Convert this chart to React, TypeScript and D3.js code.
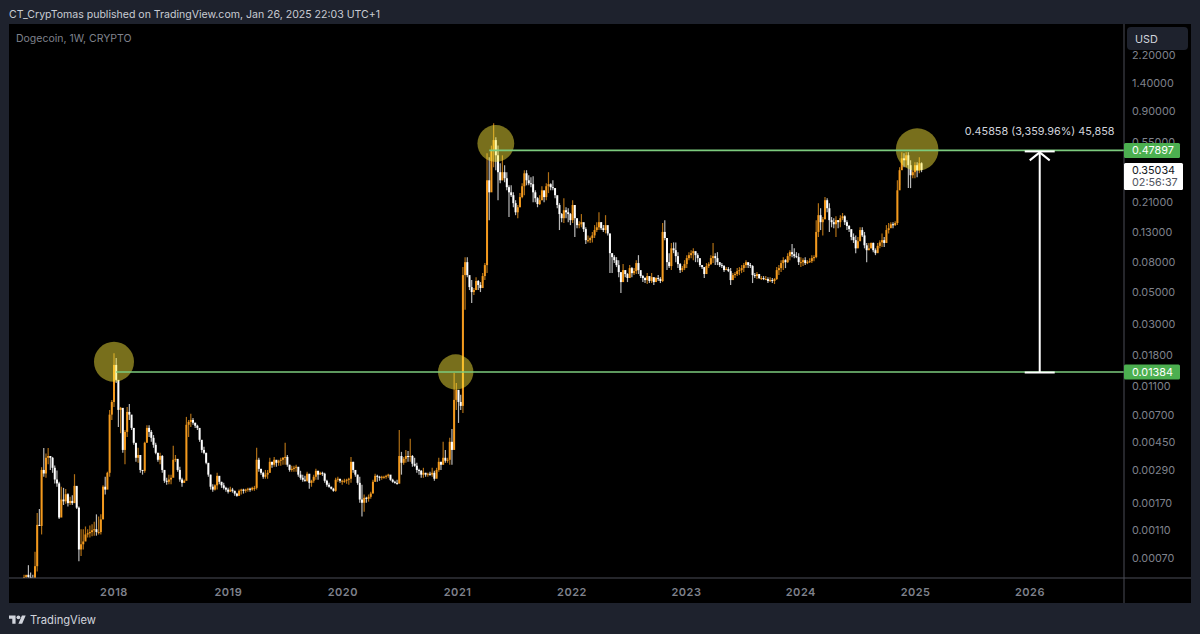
import React from "react";
import * as d3 from "d3";

type Week = [number, number, number]; // high, low, close

const weeks2017: Week[] = [
  [.00054,.00050,.00052],[.00053,.00050,.00054],[.00063,.00051,.00052],[.00056,.00048,.00051],[.00054,.00046,.00050],
  [.00078,.00050,.00062],[.00145,.00057,.00120],[.00155,.00119,.00118],[.00302,.00103,.00289],[.00410,.00259,.00273],
  [.00376,.00255,.00351],[.00410,.00317,.00361],[.00361,.00289,.00351],[.00356,.00276,.00299],[.00310,.00233,.00248],
  [.00286,.00221,.00233],[.00239,.00132,.00135],[.00221,.00146,.00180],[.00217,.00165,.00175],[.00213,.00168,.00196],
  [.00199,.00161,.00170],[.00188,.00165,.00176],[.00193,.00165,.00170],[.00270,.00180,.00224],[.00221,.00155,.00158],
  [.00161,.00067,.00081],[.00112,.00073,.00088],[.00112,.00081,.00092],[.00117,.00095,.00103],[.00112,.00098,.00105],
  [.00119,.00098,.00107],[.00121,.00100,.00110],[.00126,.00101,.00112],[.00142,.00101,.00107],[.00137,.00103,.00107],
  [.00142,.00103,.00131],[.00226,.00135,.00221],[.00259,.00195,.00211],[.00281,.00221,.00276],[.00755,.00259,.00700],
  [.00886,.00643,.00857],[.01050,.00792,.01006],
];

const weeks2018: Week[] = [
  [.0187,.00918,.0155],[.0173,.0116,.0122],[.0116,.00575,.00755],[.00792,.00520,.00780],[.00755,.00380,.00398],
  [.00548,.00317,.00531],[.00792,.00490,.00731],[.00830,.00643,.00700],[.00664,.00548,.00566],[.00566,.00432,.00446],
  [.00418,.00329,.00351],[.00412,.00324,.00367],[.00356,.00276,.00289],[.00289,.00268,.00285],[.00453,.00276,.00446],
  [.00590,.00453,.00566],[.00590,.00490,.00531],[.00548,.00453,.00483],[.00505,.00412,.00432],[.00446,.00372,.00380],
  [.00380,.00329,.00340],[.00380,.00317,.00361],[.00367,.00276,.00289],[.00289,.00235,.00243],[.00255,.00228,.00239],
  [.00268,.00230,.00248],[.00268,.00230,.00255],[.00425,.00259,.00340],[.00367,.00329,.00345],[.00340,.00281,.00289],
  [.00304,.00239,.00248],[.00255,.00221,.00235],[.00248,.00235,.00243],[.00675,.00248,.00595],[.00643,.00490,.00623],
  [.00709,.00575,.00643],[.00664,.00595,.00615],[.00615,.00566,.00586],[.00595,.00548,.00566],[.00548,.00453,.00468],
  [.00453,.00380,.00398],[.00418,.00372,.00380],[.00380,.00317,.00324],[.00317,.00259,.00268],[.00268,.00211,.00221],
  [.00230,.00204,.00211],[.00230,.00208,.00226],[.00276,.00211,.00263],[.00259,.00230,.00239],[.00239,.00217,.00226],
  [.00235,.00211,.00217],[.00221,.00204,.00211],[.00217,.00198,.00204],
];

const weeks2019: Week[] = [
  [.00221,.00204,.00211],[.00217,.00201,.00207],[.00207,.00191,.00198],[.00201,.00188,.00191],[.00211,.00191,.00207],
  [.00214,.00195,.00211],[.00214,.00198,.00207],[.00214,.00201,.00211],[.00217,.00204,.00214],[.00217,.00204,.00211],
  [.00221,.00207,.00217],[.00224,.00207,.00217],[.00412,.00211,.00340],[.00351,.00281,.00294],[.00294,.00268,.00276],
  [.00281,.00251,.00259],[.00289,.00251,.00268],[.00289,.00251,.00276],[.00351,.00276,.00329],[.00329,.00299,.00314],
  [.00356,.00304,.00340],[.00335,.00304,.00324],[.00340,.00309,.00335],[.00351,.00309,.00340],[.00356,.00314,.00351],
  [.00446,.00314,.00356],[.00367,.00304,.00314],[.00314,.00281,.00289],[.00309,.00281,.00294],[.00309,.00281,.00299],
  [.00314,.00281,.00304],[.00289,.00259,.00268],[.00285,.00247,.00255],[.00268,.00239,.00247],[.00263,.00239,.00243],
  [.00281,.00239,.00272],[.00268,.00214,.00235],[.00247,.00221,.00243],[.00268,.00235,.00259],[.00294,.00247,.00285],
  [.00285,.00247,.00268],[.00281,.00268,.00276],[.00281,.00263,.00272],[.00276,.00235,.00243],[.00247,.00221,.00228],
  [.00235,.00217,.00221],[.00221,.00211,.00214],[.00217,.00204,.00207],[.00255,.00204,.00247],[.00259,.00239,.00251],
  [.00247,.00235,.00243],[.00247,.00228,.00243],
];

const weeks2020: Week[] = [
  [.00251,.00235,.00243],[.00251,.00232,.00247],[.00255,.00228,.00251],[.00356,.00235,.00329],[.00329,.00276,.00289],
  [.00289,.00259,.00268],[.00268,.00228,.00235],[.00259,.00171,.00180],[.00228,.00137,.00171],[.00195,.00148,.00185],
  [.00188,.00171,.00182],[.00195,.00174,.00188],[.00204,.00182,.00198],[.00247,.00201,.00239],[.00272,.00239,.00263],
  [.00268,.00239,.00259],[.00263,.00243,.00255],[.00263,.00247,.00259],[.00263,.00251,.00259],[.00268,.00251,.00263],
  [.00272,.00255,.00268],[.00259,.00243,.00247],[.00251,.00235,.00239],[.00243,.00232,.00235],[.00247,.00228,.00232],
  [.00548,.00235,.00361],[.00386,.00268,.00324],[.00356,.00314,.00345],[.00398,.00324,.00361],[.00392,.00329,.00356],
  [.00475,.00329,.00361],[.00367,.00304,.00319],[.00351,.00304,.00309],[.00324,.00276,.00289],[.00294,.00268,.00285],
  [.00289,.00255,.00268],[.00299,.00255,.00276],[.00276,.00259,.00268],[.00276,.00259,.00272],[.00281,.00263,.00268],
  [.00299,.00259,.00276],[.00285,.00243,.00251],[.00299,.00259,.00289],[.00351,.00281,.00329],[.00329,.00289,.00314],
  [.00453,.00314,.00351],[.00398,.00324,.00335],[.00351,.00324,.00340],[.00483,.00314,.00453],[.00557,.00314,.00398],
  [.01362,.00412,.00886],[.0116,.00755,.0104],
];

const weeks2021: Week[] = [
  [.01006,.00613,.00857],[.0096,.00755,.00805],[.0741,.00719,.0652],[.0869,.0375,.0802],[.0869,.0631,.0652],
  [.0631,.0513,.0538],[.0602,.0417,.0497],[.053,.0474,.0513],[.0631,.0513,.0593],[.0602,.0513,.0556],
  [.0583,.0497,.053],[.0673,.0574,.0642],[.079,.0602,.0765],[.457,.0673,.297],[.429,.157,.245],
  [.517,.349,.479],[.738,.366,.565],[.59,.349,.443],[.517,.216,.338],[.39,.283,.297],
  [.443,.297,.338],[.378,.288,.307],[.338,.253,.266],[.274,.165,.245],[.274,.227,.234],
  [.245,.193,.206],[.216,.17,.178],[.2,.162,.193],[.242,.193,.227],[.283,.223,.27],
  [.349,.234,.332],[.349,.274,.297],[.322,.274,.283],[.312,.266,.279],[.317,.209,.245],
  [.253,.209,.223],[.227,.193,.203],[.234,.2,.216],[.27,.216,.253],[.242,.209,.227],
  [.283,.216,.27],[.338,.242,.279],[.283,.253,.266],[.297,.253,.262],[.262,.223,.234],
  [.227,.19,.2],[.206,.134,.173],[.176,.152,.162],[.223,.15,.184],[.193,.162,.178],
  [.19,.152,.173],[.176,.145,.157],
];

const weeks2022: Week[] = [
  [.216,.15,.2],[.176,.12,.162],[.152,.138,.145],[.154,.138,.147],[.173,.14,.152],
  [.15,.13,.136],[.14,.107,.114],[.123,.11,.114],[.121,.109,.118],[.13,.11,.123],
  [.145,.118,.134],[.152,.13,.14],[.178,.134,.152],[.152,.134,.138],[.145,.13,.134],
  [.17,.127,.145],[.134,.123,.127],[.123,.0673,.0926],[.0926,.0673,.0869],[.0897,.079,.0828],
  [.0869,.0741,.0765],[.0828,.0631,.0684],[.0652,.0489,.0583],[.0777,.0583,.0706],[.0706,.0631,.0663],
  [.0673,.0583,.0622],[.0765,.0631,.0729],[.0741,.0631,.0673],[.0729,.0652,.0695],[.0828,.0663,.079],
  [.0897,.0663,.0706],[.0673,.0622,.0642],[.0652,.0583,.0622],[.0631,.0574,.0602],[.0673,.0565,.0642],
  [.0622,.0574,.0593],[.0673,.0574,.0631],[.0622,.0556,.0583],[.0631,.0583,.0622],[.0652,.0593,.0612],
  [.0631,.0574,.0593],[.15,.0583,.13],[.157,.114,.118],[.118,.0706,.0802],[.0926,.0729,.0753],
  [.109,.0706,.1],[.11,.0926,.0971],[.11,.0802,.0883],[.0941,.0729,.0777],[.079,.0673,.0706],
  [.0753,.0684,.0729],[.0828,.0706,.0777],
];

const weeks2023: Week[] = [
  [.0897,.0729,.0855],[.0941,.0828,.0897],[.0971,.0855,.0926],[.1,.0828,.0956],[.0941,.0802,.0897],
  [.0926,.0802,.0855],[.0828,.0741,.0765],[.0765,.0718,.0741],[.0741,.0622,.0663],[.079,.0706,.0753],
  [.0802,.0729,.0777],[.0897,.0765,.0855],[.109,.079,.0883],[.0926,.0765,.0855],[.0941,.0765,.0802],
  [.0802,.0741,.0765],[.079,.0729,.0753],[.0765,.0684,.0706],[.0741,.0706,.0718],[.0741,.0684,.0695],
  [.0729,.0556,.0602],[.0673,.0602,.0652],[.0684,.0622,.0663],[.0729,.0642,.0695],[.0741,.0652,.0706],
  [.0765,.0673,.0729],[.079,.0684,.0765],[.0828,.0729,.0802],[.079,.0729,.0765],[.079,.0729,.0753],
  [.0765,.0574,.0652],[.0673,.0622,.0642],[.0684,.0612,.0663],[.0642,.0612,.0622],[.0642,.0602,.0622],
  [.0642,.0602,.0612],[.0642,.0602,.0612],[.0631,.0574,.0593],[.0631,.0583,.0602],[.0622,.0574,.0593],
  [.0622,.0565,.0612],[.0741,.0602,.0706],[.0765,.0652,.0729],[.0828,.0684,.079],[.0869,.0706,.0828],
  [.0842,.0729,.0802],[.0926,.079,.0883],[.0971,.0828,.0941],[.107,.0869,.0911],[.1,.0855,.0883],
  [.0941,.0855,.0869],[.0926,.0765,.0802],
];

const weeks2024: Week[] = [
  [.0869,.0741,.0802],[.0855,.0753,.0828],[.0869,.0765,.079],[.0828,.0777,.0802],[.0855,.079,.0815],
  [.0897,.079,.0855],[.0897,.0815,.0869],[.157,.0855,.13],[.206,.12,.17],[.19,.134,.152],
  [.165,.123,.159],[.227,.165,.216],[.223,.178,.19],[.206,.13,.157],[.165,.14,.152],
  [.162,.138,.147],[.167,.12,.157],[.157,.138,.152],[.17,.14,.162],[.176,.157,.167],
  [.17,.145,.152],[.157,.134,.143],[.145,.13,.136],[.134,.114,.12],[.127,.109,.114],
  [.123,.0926,.1],[.12,.102,.112],[.14,.114,.134],[.14,.12,.123],[.13,.1,.105],
  [.109,.0802,.0971],[.109,.0971,.1],[.11,.1,.109],[.11,.0941,.0971],[.1,.0897,.0926],
  [.109,.0941,.104],[.114,.1,.11],[.127,.102,.114],[.12,.102,.109],[.145,.109,.134],
  [.15,.127,.138],[.152,.14,.147],[.152,.138,.145],[.154,.143,.15],[.297,.145,.253],
  [.366,.274,.349],[.465,.366,.422],[.457,.366,.409],[.465,.366,.443],[.465,.262,.378],
  [.409,.262,.322],[.349,.307,.338],[.396,.307,.378],
];

const weeks2025: Week[] = [[.396,.312,.349],[.429,.332,.39],[.396,.338,.35034]];

// first monday of each block, so a miscount in one year doesn't drift into the next
const yearBlocks: [string, Week[]][] = [
  ["2017-03-20", weeks2017],
  ["2018-01-01", weeks2018],
  ["2019-01-07", weeks2019],
  ["2020-01-06", weeks2020],
  ["2021-01-04", weeks2021],
  ["2022-01-03", weeks2022],
  ["2023-01-02", weeks2023],
  ["2024-01-01", weeks2024],
  ["2025-01-06", weeks2025],
];

const priceTicks = [2.2, 1.4, 0.9, 0.55, 0.21, 0.13, 0.08, 0.05, 0.03, 0.018, 0.011, 0.007, 0.0045, 0.0029, 0.0017, 0.0011, 0.0007];
const yearTicks = [2018, 2019, 2020, 2021, 2022, 2023, 2024, 2025, 2026];

const highLevel = 0.47897;
const lowLevel = 0.01384;
const lastPrice = 0.35034;

const circleDates = ["2018-01-01", "2020-12-26", "2021-05-03", "2025-01-06"];
const circlePrices = [0.0163, 0.01384, 0.535, 0.485];
const circleRadii = [20, 17.7, 18.4, 21.3];

const levelStarts = { high: "2021-04-12", low: "2018-01-08" };
const arrowDate = "2026-02-01";

const FRAME = "#1e222d";
const ORANGE = "#f39a1e";
const FONT = "Inter, 'Noto Sans', sans-serif";
const AXIS_TEXT = "#7f828c";

const paneLeft = 9;
const paneTop = 24;
const paneRight = 1191;
const paneBottom = 603;
const axisX = 1124;
const axisY = 578;

const x = d3
  .scaleUtc()
  .domain([new Date("2018-01-01"), new Date("2026-01-01")])
  .range([114, 1030]);
const y = d3.scaleLog().domain([lowLevel, highLevel]).range([372, 150.4]);

const bars = yearBlocks.flatMap(([start, weeks]) =>
  weeks.map((w, i) => ({
    date: d3.utcWeek.offset(new Date(start), i),
    high: w[0],
    low: w[1],
    close: w[2],
  }))
);

const priceFormat = d3.format(".5f");

export default function App() {
  const arrowX = x(new Date(arrowDate));
  const topY = y(highLevel);
  const botY = y(lowLevel);

  return (
    <svg
      width={1200}
      height={634}
      viewBox="0 0 1200 634"
      style={{ position: "absolute", left: 0, top: 0, fontFamily: FONT }}
    >
      <defs>
        <clipPath id="pane">
          <rect x={paneLeft} y={paneTop} width={axisX - paneLeft} height={axisY - paneTop} />
        </clipPath>
      </defs>
      <rect width={1200} height={634} fill={FRAME} />
      <rect x={paneLeft} y={paneTop} width={paneRight - paneLeft} height={paneBottom - paneTop} fill="#000" />

      <text x={9} y={18} fontSize={10.55} fill="#c9ccd4">
        CT_CrypTomas published on TradingView.com, Jan 26, 2025 22:03 UTC+1
      </text>
      <text x={16} y={41.5} fontSize={10.5} fill={AXIS_TEXT}>
        Dogecoin, 1W, CRYPTO
      </text>

      <g clipPath="url(#pane)">
        {bars.map((b, i) => {
          const open = i > 0 ? bars[i - 1].close : b.close;
          const color = b.close >= open ? ORANGE : "#fff";
          const bx = x(b.date);
          const top = y(Math.max(open, b.close));
          const bottom = y(Math.min(open, b.close));
          return (
            <g key={i}>
              <line x1={bx} x2={bx} y1={y(b.high)} y2={y(b.low)} stroke={color} strokeWidth={1.2} opacity={0.72} />
              <rect x={bx - 1} y={top} width={2} height={Math.max(bottom - top, 1)} fill={color} />
            </g>
          );
        })}
        {circleDates.map((d, i) => (
          <circle
            key={d}
            cx={x(new Date(d))}
            cy={y(circlePrices[i])}
            r={circleRadii[i]}
            fill="#ffeb3b"
            opacity={0.47}
          />
        ))}
      </g>

      <line x1={x(new Date(levelStarts.high))} x2={axisX} y1={topY} y2={topY} stroke="#7ccb7e" strokeWidth={1.6} />
      <line x1={x(new Date(levelStarts.low))} x2={axisX} y1={botY} y2={botY} stroke="#7ccb7e" strokeWidth={1.6} />

      <g stroke="#fff" fill="none" strokeWidth={2}>
        <line x1={arrowX} x2={arrowX} y1={topY + 1} y2={botY} />
        <line x1={arrowX - 15} x2={arrowX + 15} y1={topY + 1} y2={topY + 1} />
        <line x1={arrowX - 15} x2={arrowX + 15} y1={botY + 0.5} y2={botY + 0.5} />
        <path d={`M${arrowX - 10},${topY + 10} L${arrowX},${topY + 2} L${arrowX + 10},${topY + 10}`} />
      </g>
      <text x={arrowX} y={135} textAnchor="middle" fontSize={10.85} fill="#d1d4dc">
        0.45858 (3,359.96%) 45,858
      </text>

      <line x1={axisX} x2={axisX} y1={paneTop} y2={paneBottom} stroke="#4a4d57" />
      <line x1={paneLeft} x2={paneRight} y1={axisY} y2={axisY} stroke="#4a4d57" />

      {priceTicks.map((t) => (
        <text key={t} x={1132} y={y(t)} dy="0.36em" fontSize={10.8} fill={AXIS_TEXT}>
          {priceFormat(t)}
        </text>
      ))}
      {yearTicks.map((t) => (
        <text
          key={t}
          x={x(new Date(`${t}-01-01`))}
          y={592}
          dy="0.36em"
          textAnchor="middle"
          fontSize={11}
          fontWeight={600}
          letterSpacing={0.5}
          fill={AXIS_TEXT}
        >
          {t}
        </text>
      ))}

      <rect x={1127} y={27} width={61} height={23} rx={4} fill={FRAME} />
      <text x={1135} y={39} dy="0.36em" fontSize={10.8} fill="#d1d4dc">
        USD
      </text>

      {[highLevel, lowLevel].map((level) => (
        <g key={level}>
          <rect x={axisX} y={y(level) - 7.5} width={56} height={15} rx={1.5} fill="#4caf50" />
          <text x={1132} y={y(level)} dy="0.36em" fontSize={10.8} fill="#fff">
            {priceFormat(level)}
          </text>
        </g>
      ))}

      <rect x={axisX} y={163} width={59} height={27} rx={1.5} fill="#fff" />
      <text x={1132} y={170.5} dy="0.36em" fontSize={10.8} fill="#131722">
        {priceFormat(lastPrice)}
      </text>
      <text x={1132} y={182} dy="0.36em" fontSize={10.8} fill="#50535e">
        02:56:37
      </text>

      <g transform="translate(9,613.5) scale(0.47)" fill="#d1d4dc">
        <path d="M14 22H7V11H0V4h14v18zM28 22h-8l7.5-18h8L28 22z" />
        <circle cx={20} cy={8} r={4} />
      </g>
      <text x={30} y={619.5} dy="0.36em" fontSize={11.2} fill="#d1d4dc">
        TradingView
      </text>
    </svg>
  );
}
